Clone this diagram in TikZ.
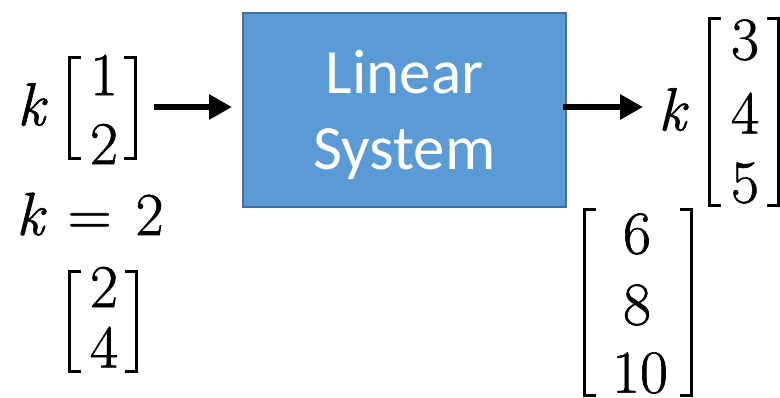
\documentclass[tikz,border=0pt]{standalone}
\usepackage{fontspec}
\setmainfont{Latin Modern Roman}
\newfontfamily\mfont[FakeBold=1]{Latin Modern Roman}
\newfontfamily\boxfont{Carlito}
\usetikzlibrary{arrows.meta}
\definecolor{boxfill}{HTML}{5B9BD5}
\definecolor{boxline}{HTML}{41719C}
\newcommand\drawbrackets[2]{%
  \draw[brkline] ([xshift=#2]#1.north west) -- (#1.north west) -- (#1.south west) -- ([xshift=#2]#1.south west);
  \draw[brkline] ([xshift=-#2]#1.north east) -- (#1.north east) -- (#1.south east) -- ([xshift=-#2]#1.south east);}
\begin{document}
\begin{tikzpicture}[x=1pt,y=-1pt,
  mth/.style={inner sep=0pt, font=\mfont\fontsize{61}{72}\selectfont},
  frame/.style={inner sep=0pt, minimum width=#1},
  brkline/.style={line width=3.2pt, line join=miter},
  sysbox/.style={draw=boxline, line width=2pt, fill=boxfill, minimum width=323pt, minimum height=194pt, inner sep=0pt},
  systext/.style={text=white, font=\boxfont\fontsize{63}{76}\selectfont, align=center, inner sep=0pt},
  arr/.style={line width=6.5pt, -{Triangle[length=23pt,width=24pt]}}]
\useasboundingbox (0,0) rectangle (780,398);

% input vector
\node[mth] (kL) at (31,104.5) {\itshape k};
\node[frame=66pt, minimum height=101pt] (mA) at (102.5,108) {};
\node[mth] (a1) at (104,75) {1};
\node[mth] (a2) at (104,144) {2};
\drawbrackets{mA}{12pt}

\node[mth, anchor=base west] (keq) at (16,235) {{\itshape k}\hspace{24pt}=\hspace{24pt}2};

\node[frame=67pt, minimum height=100pt] (mB) at (103,321.5) {};
\node[mth] (b1) at (104,287) {2};
\node[mth] (b2) at (104,347) {4};
\drawbrackets{mB}{12pt}

% system
\node[sysbox] (sys) at (404.5,110) {};
\node[systext] (sysT) at ([yshift=-5pt]sys.center) {Linear\\System};

% output
\node[mth] (kR) at (672,109.5) {\itshape k};
\node[frame=69pt, minimum height=187pt] (mC) at (744,112) {};
\node[mth] (c1) at (745,40) {3};
\node[mth] (c2) at (745,113) {4};
\node[mth] (c3) at (745,183) {5};
\drawbrackets{mC}{12pt}

\node[frame=107pt, minimum height=186pt] (mD) at (638,302.5) {};
\node[mth] (d1) at (637,234) {6};
\node[mth] (d2) at (637,305) {8};
\node[mth] (d3) at (640,373) {10};
\drawbrackets{mD}{12pt}

% arrows
\draw[arr, shorten <=18.5pt, shorten >=10pt] ([yshift=1pt]mA.east) -- ([yshift=1pt]mA.east -| sys.west);
\draw[arr, shorten <=-4pt, shorten >=15pt] ([yshift=3pt]sys.east) -- ([yshift=3pt]sys.east -| kR.west);
\end{tikzpicture}
\end{document}
